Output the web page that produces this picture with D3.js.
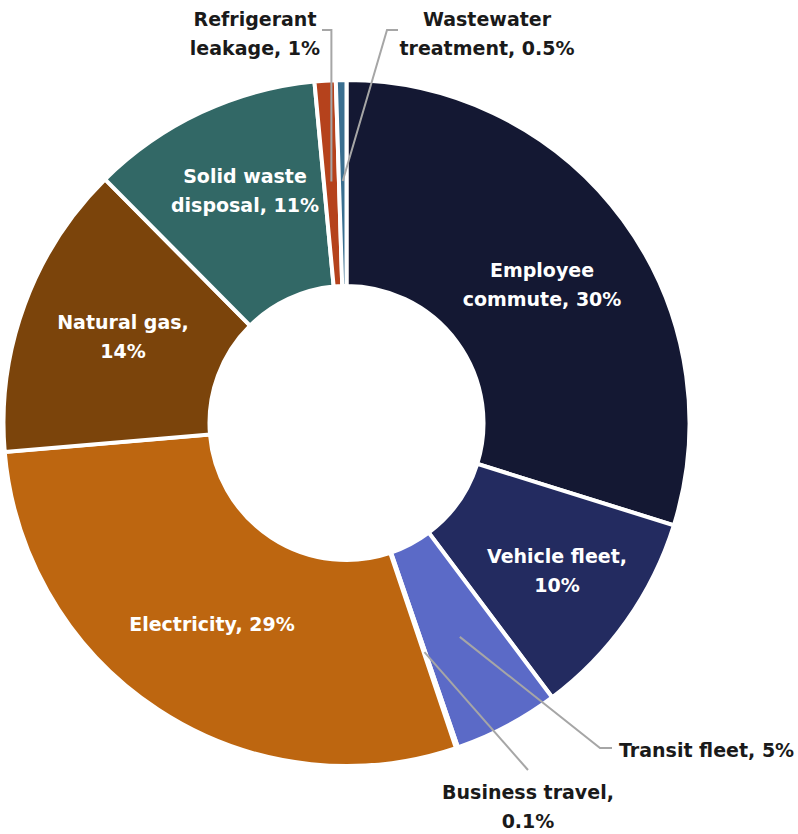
<!DOCTYPE html>
<html>
<head>
<meta charset="utf-8">
<script src="https://cdn.jsdelivr.net/npm/d3@7/dist/d3.min.js"></script>
<style>
  html, body { margin: 0; padding: 0; background: #ffffff; }
  svg { display: block; }
  text { font-family: "DejaVu Sans", "Noto Sans", sans-serif; font-weight: bold; }
</style>
</head>
<body>
<svg id="chart" width="798" height="834"></svg>
<script>
// Emission sources, clockwise from 12 o'clock
const categories = [
  "Employee commute", "Vehicle fleet", "Transit fleet", "Business travel",
  "Electricity", "Natural gas", "Solid waste disposal", "Refrigerant leakage",
  "Wastewater treatment"
];
const shares = [30, 10, 5, 0.1, 29, 14, 11, 1, 0.5];
const valueLabels = ["30%", "10%", "5%", "0.1%", "29%", "14%", "11%", "1%", "0.5%"];
const colors = [
  "#141833", "#232b60", "#5b6ac7", "#7f8fd6", "#bd6610",
  "#7b440b", "#326866", "#b5421c", "#3a6f90"
];

// Label text lines (each line is drawn as its own tspan)
const labelLines = [
  ["Employee", "commute, 30%"],
  ["Vehicle fleet,", "10%"],
  ["Transit fleet, 5%"],
  ["Business travel,", "0.1%"],
  ["Electricity, 29%"],
  ["Natural gas,", "14%"],
  ["Solid waste", "disposal, 11%"],
  ["Refrigerant", "leakage, 1%"],
  ["Wastewater", "treatment, 0.5%"]
];

// Label placement: anchor point of first baseline, alignment, inside/outside
const labelPlacement = {
  "Employee commute":     { x: 542, y: 277, anchor: "middle", inside: true },
  "Vehicle fleet":        { x: 557, y: 563, anchor: "middle", inside: true },
  "Transit fleet":        { x: 619, y: 757, anchor: "start",  inside: false,
                            elbow: [600, 748], end: [612, 748] },
  "Business travel":      { x: 528, y: 799, anchor: "middle", inside: false,
                            elbow: null, end: [528, 770] },
  "Electricity":          { x: 212, y: 631, anchor: "middle", inside: true },
  "Natural gas":          { x: 123, y: 329, anchor: "middle", inside: true },
  "Solid waste disposal": { x: 245, y: 183, anchor: "middle", inside: true },
  "Refrigerant leakage":  { x: 255, y: 26,  anchor: "middle", inside: false,
                            elbow: "vertical", elbowY: 30, end: [322, 30] },
  "Wastewater treatment": { x: 487, y: 26,  anchor: "middle", inside: false,
                            elbow: [387, 30], end: [398, 30] }
};

const data = categories.map((c, i) => ({
  name: c, value: shares[i], label: valueLabels[i], color: colors[i], lines: labelLines[i]
}));

const cx = 346.5, cy = 423;
const outerR = 343, innerR = 137;
const leaderR = 242;
const lineHeight = 29;

const svg = d3.select("#chart");
const g = svg.append("g").attr("transform", `translate(${cx},${cy})`);

const pie = d3.pie().value(d => d.value).sort(null);
const arc = d3.arc().innerRadius(innerR).outerRadius(outerR);
const arcs = pie(data);

g.selectAll("path.slice")
  .data(arcs)
  .join("path")
  .attr("class", "slice")
  .attr("d", arc)
  .attr("fill", d => d.data.color)
  .attr("stroke", "#ffffff")
  .attr("stroke-width", 4)
  .attr("stroke-linejoin", "miter");

// Leader lines for labels placed outside the ring
const polar = (angle, r) => [cx + r * Math.sin(angle), cy - r * Math.cos(angle)];

arcs.forEach(a => {
  const p = labelPlacement[a.data.name];
  if (p.inside) return;
  const mid = (a.startAngle + a.endAngle) / 2;
  const start = polar(mid, leaderR);
  let pts = [start];
  if (p.elbow === "vertical") {
    pts.push([start[0], p.elbowY]);
  } else if (p.elbow) {
    pts.push(p.elbow);
  }
  pts.push(p.end);
  svg.append("path")
    .attr("d", d3.line()(pts))
    .attr("fill", "none")
    .attr("stroke", "#a6a6a6")
    .attr("stroke-width", 2);
});

// Labels
arcs.forEach(a => {
  const p = labelPlacement[a.data.name];
  const t = svg.append("text")
    .attr("x", p.x)
    .attr("y", p.y)
    .attr("text-anchor", p.anchor)
    .attr("font-size", 19)
    .attr("fill", p.inside ? "#ffffff" : "#1a1a1a");
  a.data.lines.forEach((ln, i) => {
    t.append("tspan")
      .attr("x", p.x)
      .attr("dy", i === 0 ? 0 : lineHeight)
      .text(ln);
  });
});
</script>
</body>
</html>
